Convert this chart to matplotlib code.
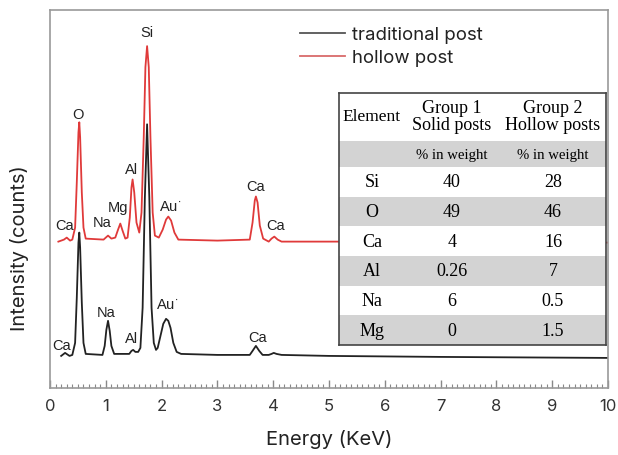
import matplotlib.pyplot as plt
from matplotlib.patches import Rectangle

# spectra: (energy keV, intensity counts)
trad_energy = [0.20, 0.27, 0.35, 0.40, 0.45, 0.48, 0.51, 0.525, 0.54, 0.57, 0.60, 0.64,
               0.94, 0.98, 1.01, 1.04, 1.07, 1.10, 1.15,
               1.42, 1.46, 1.49, 1.53, 1.58,
               1.62, 1.66, 1.70, 1.74, 1.78, 1.82, 1.86, 1.90,
               1.93, 1.98, 2.03, 2.08, 2.12, 2.16, 2.21, 2.27, 2.35,
               3.00, 3.58, 3.63, 3.69, 3.75, 3.81, 3.92, 3.97, 4.01, 4.06, 4.15,
               5.00, 7.00, 10.0]
trad_counts = [32, 35, 32, 33, 45, 90, 145, 155, 140, 85, 45, 34,
               33, 42, 58, 67, 57, 42, 34,
               34, 37, 38, 36, 36,
               40, 80, 190, 263, 190, 80, 45, 38,
               40, 52, 64, 69, 67, 60, 45, 36, 34,
               33, 33, 37, 42, 37, 33, 33, 34, 35, 34, 33,
               32, 31, 30]

hollow_energy = [0.15, 0.25, 0.30, 0.36, 0.40, 0.45, 0.48, 0.51, 0.525, 0.54, 0.57, 0.60, 0.64,
                 0.96, 1.04, 1.10,
                 1.17, 1.22, 1.26, 1.30, 1.35,
                 1.39, 1.43, 1.46, 1.48, 1.51, 1.55, 1.60,
                 1.64, 1.68, 1.71, 1.74, 1.77, 1.80, 1.84, 1.88,
                 1.95, 2.02, 2.08, 2.12, 2.17, 2.23, 2.30,
                 3.00, 3.58, 3.63, 3.67, 3.69, 3.72, 3.76, 3.82,
                 3.92, 3.97, 4.02, 4.08, 4.15, 6.00, 10.0]
hollow_counts = [146, 148, 150, 147, 148, 160, 205, 255, 265, 250, 195, 160, 149,
                 148, 152, 149,
                 150, 158, 164, 157, 149,
                 150, 170, 200, 208, 195, 165, 155,
                 175, 250, 320, 341, 320, 250, 175, 152,
                 150, 158, 168, 171, 167, 155, 148,
                 147, 148, 165, 187, 191, 185, 162, 149,
                 146, 149, 151, 148, 146, 146, 145]

# peak labels: (text, energy, intensity)
hollow_labels = [("Si", 1.74, 355), ("O", 0.50, 273), ("Al", 1.46, 218), ("Mg", 1.21, 181),
                 ("Na", 0.94, 166), ("Ca", 0.26, 163), ("Au$^{\\cdot}$", 2.16, 181),
                 ("Ca", 3.68, 201), ("Ca", 4.04, 163)]
trad_labels = [("Ca", 0.20, 43), ("Na", 1.01, 76), ("Al", 1.47, 50),
               ("Au$^{\\cdot}$", 2.10, 83), ("Ca", 3.72, 51)]

# composition table
elements = ["Si", "O", "Ca", "Al", "Na", "Mg"]
solid_pct = ["40", "49", "4", "0.26", "6", "0"]
hollow_pct = ["28", "46", "16", "7", "0.5", "1.5"]

plt.rcParams['font.family'] = ['Inter', 'DejaVu Sans']

fig = plt.figure(figsize=(6.18, 4.56), dpi=100)
ax = fig.add_axes([50 / 618, 1 - 389 / 456, 558 / 618, 378 / 456])

ax.plot(trad_energy, trad_counts, color="#222222", lw=1.3, label="traditional post")
ax.plot(hollow_energy, hollow_counts, color="#e03a3a", lw=1.3, label="hollow post")

for txt, e, c in hollow_labels + trad_labels:
    ax.text(e, c, txt, ha="center", va="center", fontsize=10.5,
            family=["Liberation Sans", "DejaVu Sans"], color="#222222")

ax.set_xlim(0, 10)
ax.set_ylim(0, 377)
ax.set_xticks(range(0, 11))
ax.set_xticks([i / 10 for i in range(0, 101)], minor=True)
ax.set_yticks([])
ax.tick_params(axis="x", direction="in", length=6, width=1, color="#888888",
               labelsize=12, labelcolor="#333333", pad=7)
ax.tick_params(axis="x", which="minor", direction="in", length=3, width=0.8, color="#888888")
for s in ax.spines.values():
    s.set_color("#999999")
    s.set_linewidth(1.2)

ax.set_xlabel("Energy (KeV)", fontsize=14.5, color="#222222", labelpad=12)
fig.text(20 / 618, 1 - 248 / 456, "Intensity (counts)", rotation=90, ha="center", va="center",
         fontsize=14.5, color="#222222")

leg = ax.legend(loc="upper left", bbox_to_anchor=(0.448, 0.957), frameon=False, fontsize=13.4,
                handlelength=2.4, handletextpad=0.4, labelspacing=0.32, borderaxespad=0,
                borderpad=0)
leg.get_lines()[0].set_color("#555555")
leg.get_lines()[1].set_color("#d96a6a")
for t in leg.get_texts():
    t.set_color("#222222")

# table drawn in pixel coordinates of its own axes
tl, tr, tt, tb = 339, 606, 94, 346
tab = fig.add_axes([tl / 618, 1 - tb / 456, (tr - tl) / 618, (tb - tt) / 456])
tab.set_xlim(tl, tr)
tab.set_ylim(tb, tt)
tab.set_xticks([])
tab.set_yticks([])
for s in tab.spines.values():
    s.set_color("#444444")
    s.set_linewidth(1.2)
serif = ["Liberation Serif", "DejaVu Serif"]
col_x = [372, 452, 553]
row_h = (tb - 168) / len(elements)

tab.add_patch(Rectangle((tl, 142), tr - tl, 26, color="#d3d3d3", lw=0))
tab.text(col_x[0], 117, "Element", ha="center", va="center", fontsize=12.5, family=serif)
tab.text(col_x[1], 117, "Group 1\nSolid posts", ha="center", va="center", fontsize=13,
         family=serif, linespacing=1.05)
tab.text(col_x[2], 117, "Group 2\nHollow posts", ha="center", va="center", fontsize=13,
         family=serif, linespacing=1.05)
tab.text(col_x[1], 155, "% in weight", ha="center", va="center", fontsize=10.6, family=serif)
tab.text(col_x[2], 155, "% in weight", ha="center", va="center", fontsize=10.6, family=serif)

for i, (el, a, b) in enumerate(zip(elements, solid_pct, hollow_pct)):
    y0 = 168 + i * row_h
    if i % 2 == 1:
        tab.add_patch(Rectangle((tl, y0), tr - tl, row_h, color="#d3d3d3", lw=0))
    yc = y0 + row_h / 2
    tab.text(col_x[0], yc, el, ha="center", va="center", fontsize=13, family=serif)
    tab.text(col_x[1], yc, a, ha="center", va="center", fontsize=13, family=serif)
    tab.text(col_x[2], yc, b, ha="center", va="center", fontsize=13, family=serif)

fig.savefig("out.png", dpi=100)
